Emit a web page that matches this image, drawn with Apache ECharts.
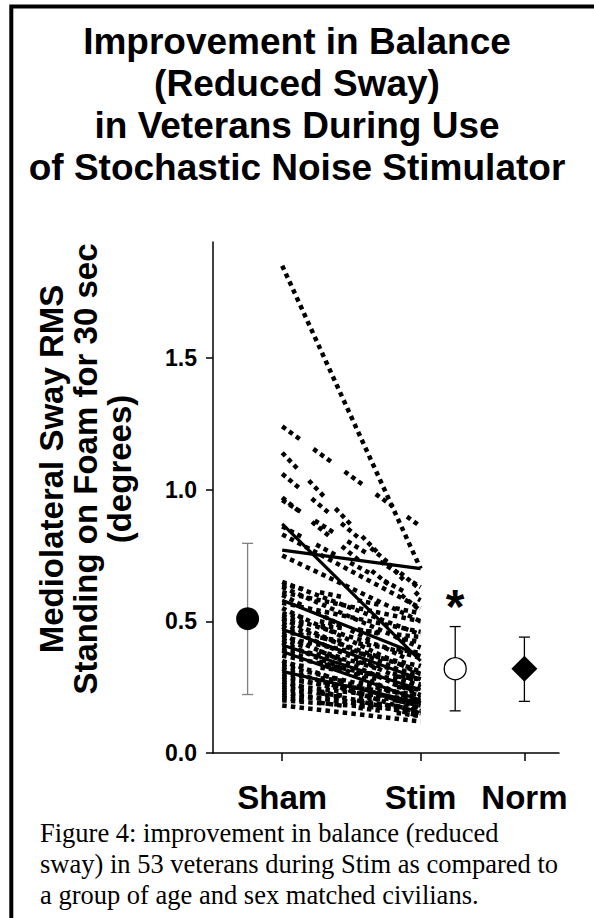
<!DOCTYPE html>
<html>
<head>
<meta charset="utf-8">
<script src="https://cdn.jsdelivr.net/npm/echarts@6/dist/echarts.min.js"></script>
<style>
html,body{margin:0;padding:0;background:#fff;}
#chart{width:594px;height:918px;}
</style>
</head>
<body>
<div id="chart"></div>
<script>
// ---------- data ----------
const titleLines = ['Improvement in Balance', '(Reduced Sway)', 'in Veterans During Use', 'of Stochastic Noise Stimulator'];
const yAxisTitleLines = ['Mediolateral Sway RMS', 'Standing on Foam for 30 sec', '(degrees)'];
const captionLines = ['Figure 4: improvement in balance (reduced', 'sway) in 53 veterans during Stim as compared to', 'a group of age and sex matched civilians.'];
const groupLabels = ['Sham', 'Stim', 'Norm'];
const groupX = [1, 2, 2.75];
const yTickValues = [0, 0.5, 1.0, 1.5];

// individual veterans: Sham value and Stim value
const shamValues = [
  1.85, 1.24, 1.14, 1.06, 0.97, 0.96, 0.87, 0.77, 0.86, 0.83, 0.75,
  0.58, 0.47, 0.41, 0.385, 0.31, 0.18,
  0.65, 0.64, 0.63, 0.61, 0.60, 0.57, 0.55, 0.53, 0.52, 0.51, 0.50, 0.49,
  0.48, 0.46, 0.45, 0.44, 0.43, 0.42, 0.40, 0.39, 0.37, 0.35, 0.34, 0.33,
  0.32, 0.30, 0.29, 0.28, 0.27, 0.26, 0.25, 0.24, 0.23, 0.22, 0.21, 0.20
];
const stimValues = [
  0.70, 0.86, 0.59, 0.62, 0.54, 0.63, 0.35, 0.70, 0.58, 0.55, 0.50,
  0.37, 0.28, 0.24, 0.20, 0.19, 0.12,
  0.45, 0.53, 0.40, 0.50, 0.33, 0.46, 0.30, 0.42, 0.36, 0.28, 0.44, 0.31,
  0.25, 0.38, 0.22, 0.33, 0.27, 0.19, 0.30, 0.23, 0.26, 0.17, 0.28, 0.21,
  0.15, 0.24, 0.18, 0.22, 0.14, 0.20, 0.16, 0.19, 0.15, 0.17, 0.14, 0.16
];

// group summaries (mean with error bar)
const summaryX = [0.75, 2.25, 2.75];
const summaryMean = [0.51, 0.32, 0.32];
const summaryLow = [0.222, 0.16, 0.196];
const summaryHigh = [0.796, 0.48, 0.44];
const sigX = [2.25];
const sigY = [0.555];
const sigMark = ['*'];

// ---------- styles ----------
const SANS = '"Liberation Sans", Arial, Helvetica, sans-serif';
const SERIF = '"Liberation Serif", "Times New Roman", serif';
const solidLines = new Set([6, 7, 11, 12, 13, 14, 15]);
const groupedLines = new Set([1, 2, 3, 4, 5, 8]);
const DOTTED = [4.5, 4.2];
const GROUPED = [4.5, 4, 4.5, 4, 4.5, 17];

function lineStyleFor(i) {
  if (solidLines.has(i)) return { color: '#000', width: 3.2, type: 'solid', cap: 'butt' };
  const grouped = groupedLines.has(i) || (i >= 17 && i % 3 === 0);
  return { color: '#000', width: 4.5, type: grouped ? GROUPED : DOTTED, cap: 'butt' };
}

const markerStyles = [
  { symbol: 'circle', symbolSize: 23, itemStyle: { color: '#000', opacity: 1 } },
  { symbol: 'circle', symbolSize: 22, itemStyle: { color: '#fff', borderColor: '#000', borderWidth: 1.3, opacity: 1 } },
  { symbol: 'diamond', symbolSize: 26, itemStyle: { color: '#000', opacity: 1 } }
];
const errorColors = ['#808080', '#000', '#000'];

// ---------- series ----------
const series = [];
shamValues.forEach((s, i) => {
  series.push({
    type: 'line',
    data: [[groupX[0], s], [groupX[1], stimValues[i]]],
    showSymbol: false,
    symbol: 'none',
    lineStyle: lineStyleFor(i),
    silent: true,
    z: 2
  });
});

series.push({
  type: 'custom',
  z: 3,
  data: summaryX.map((x, i) => [x, summaryLow[i], summaryHigh[i]]),
  encode: { x: 0, y: [1, 2] },
  renderItem(params, api) {
    const x = api.value(0);
    const lo = api.coord([x, api.value(1)]);
    const hi = api.coord([x, api.value(2)]);
    const c = errorColors[params.dataIndex];
    const half = 5.5;
    const st = { stroke: c, lineWidth: 1.3 };
    return {
      type: 'group',
      children: [
        { type: 'line', shape: { x1: lo[0], y1: lo[1], x2: hi[0], y2: hi[1] }, style: st },
        { type: 'line', shape: { x1: lo[0] - half, y1: lo[1], x2: lo[0] + half, y2: lo[1] }, style: st },
        { type: 'line', shape: { x1: hi[0] - half, y1: hi[1], x2: hi[0] + half, y2: hi[1] }, style: st }
      ]
    };
  }
});

series.push({
  type: 'scatter',
  z: 4,
  itemStyle: { opacity: 1 },
  data: summaryX.map((x, i) => Object.assign({ value: [x, summaryMean[i]] }, markerStyles[i]))
});

series.push({
  type: 'custom',
  z: 5,
  data: sigX.map((x, i) => [x, sigY[i]]),
  renderItem(params, api) {
    const p = api.coord([api.value(0), api.value(1)]);
    return {
      type: 'text',
      x: p[0], y: p[1],
      style: {
        text: sigMark[params.dataIndex],
        font: 'bold 48px ' + SANS,
        fill: '#000',
        textAlign: 'center',
        textVerticalAlign: 'middle'
      }
    };
  }
});

// ---------- chart ----------
const chart = echarts.init(document.getElementById('chart'), null, { renderer: 'svg', width: 594, height: 918 });
chart.setOption({
  animation: false,
  backgroundColor: '#fff',
  grid: { left: 213, right: 35, top: 242, bottom: 165 },
  xAxis: {
    type: 'value',
    min: 0.5, max: 3.0,
    splitLine: { show: false },
    axisLine: { show: true, lineStyle: { color: '#000', width: 1.5 } },
    axisTick: { show: true, length: 8, customValues: groupX, lineStyle: { color: '#000', width: 1.5 } },
    axisLabel: {
      customValues: groupX,
      margin: 28,
      formatter: v => { const k = groupX.findIndex(g => Math.abs(g - v) < 1e-9); return k >= 0 ? groupLabels[k] : ''; },
      color: '#000', fontSize: 33, fontWeight: 'bold', fontFamily: SANS
    }
  },
  yAxis: {
    type: 'value',
    min: 0, max: 1.94,
    splitLine: { show: false },
    axisLine: { show: true, lineStyle: { color: '#000', width: 1.5 } },
    axisTick: { show: true, length: 7, customValues: yTickValues, lineStyle: { color: '#000', width: 1.5 } },
    axisLabel: {
      customValues: yTickValues,
      margin: 16,
      formatter: v => v.toFixed(1),
      color: '#000', fontSize: 23, fontWeight: 'bold', fontFamily: SANS
    }
  },
  graphic: [
    {
      type: 'rect', silent: true, z: 100,
      shape: { x: 11.3, y: 6.5, width: 700, height: 1000 },
      style: { fill: 'none', stroke: '#000', lineWidth: 4 }
    },
    {
      type: 'text', silent: true,
      x: 297, y: 20,
      style: {
        text: titleLines.join('\n'),
        font: 'bold 37px ' + SANS,
        fill: '#000', textAlign: 'center', textVerticalAlign: 'top', lineHeight: 42
      }
    },
    {
      type: 'text', silent: true,
      x: 85, y: 469, rotation: Math.PI / 2,
      style: {
        text: yAxisTitleLines.join('\n'),
        font: 'bold 33px ' + SANS,
        fill: '#000', textAlign: 'center', textVerticalAlign: 'middle', lineHeight: 34
      }
    },
    {
      type: 'text', silent: true,
      x: 40, y: 817,
      style: {
        text: captionLines.join('\n'),
        font: '26.5px ' + SERIF,
        fill: '#000', textAlign: 'left', textVerticalAlign: 'top', lineHeight: 31
      }
    }
  ],
  series: series
});
</script>
</body>
</html>
